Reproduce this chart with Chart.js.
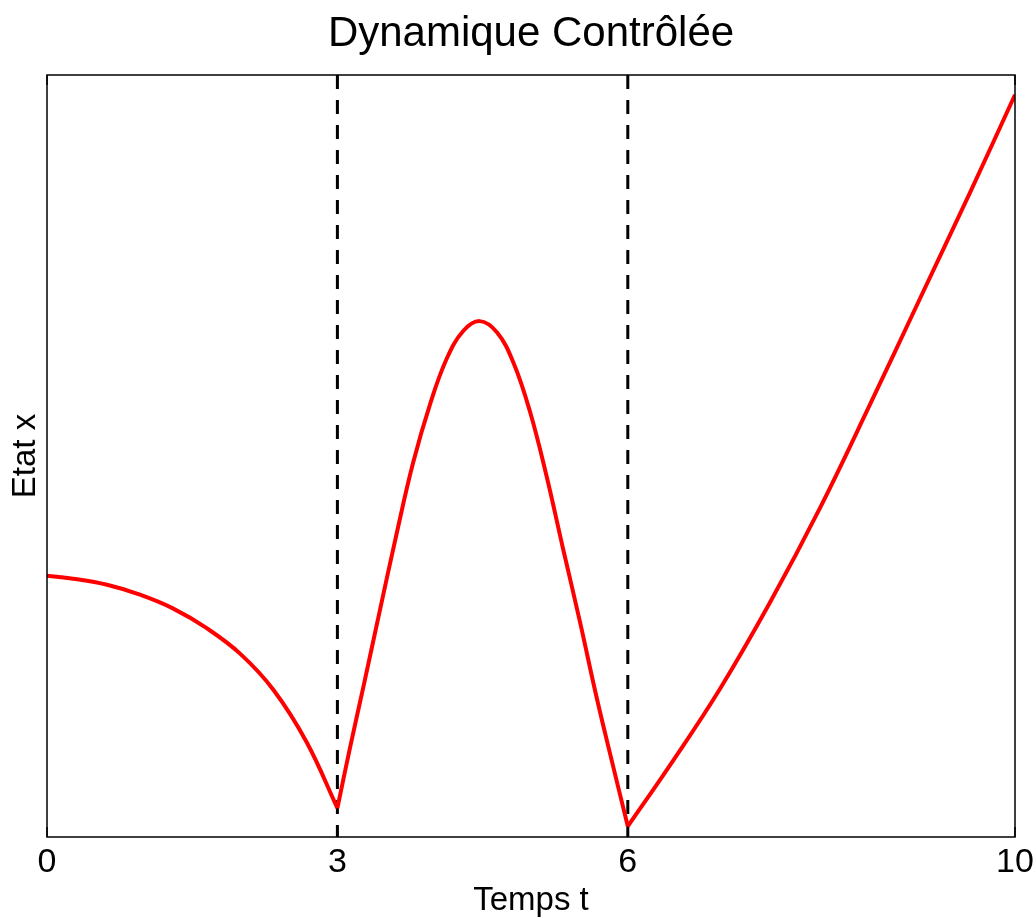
<!DOCTYPE html>
<html>
<head>
<meta charset="utf-8">
<script src="https://cdn.jsdelivr.net/npm/chart.js@4"></script>
<style>
  html, body { margin: 0; padding: 0; background: #fff; }
  #wrap { width: 1036px; height: 918px; }
</style>
</head>
<body>
<div id="wrap"><canvas id="myChart"></canvas></div>
<script>
// temps t et etat x (3 phases)
var tPhase1 = [0, 0.27, 0.62, 0.96, 1.3, 1.65, 2.0, 2.34, 2.68, 3.0];
var xPhase1 = [0.343, 0.339, 0.331, 0.318, 0.300, 0.274, 0.240, 0.193, 0.125, 0.038];

var tPhase2 = [3.0, 3.13, 3.27, 3.44, 3.61, 3.78, 3.96, 4.13, 4.30, 4.47, 4.65, 4.82, 4.99, 5.16, 5.33, 5.51, 5.68, 5.85, 6.0];
var xPhase2 = [0.038, 0.117, 0.198, 0.298, 0.397, 0.490, 0.569, 0.628, 0.664, 0.677, 0.662, 0.622, 0.558, 0.474, 0.379, 0.280, 0.182, 0.092, 0.014];

var tPhase3 = [6.0, 6.44, 6.95, 7.47, 7.99, 8.5, 9.02, 9.54, 10.0];
var xPhase3 = [0.014, 0.095, 0.194, 0.308, 0.433, 0.567, 0.707, 0.847, 0.974];

var tSwitch = [3, 6];          // instants de commutation (lignes pointillees)
var tickValues = [0, 3, 6, 10];
var titre = "Dynamique Contrôlée";

function pairs(ts, xs) {
  var out = [];
  for (var i = 0; i < ts.length; i++) out.push({ x: ts[i], y: xs[i] });
  return out;
}

var rouge = {
  borderColor: "#ff0000",
  borderWidth: 4,
  pointRadius: 0,
  fill: false,
  tension: 0.4,
};

var datasets = [
  Object.assign({ data: pairs(tPhase1, xPhase1) }, rouge),
  Object.assign({ data: pairs(tPhase2, xPhase2) }, rouge),
  Object.assign({ data: pairs(tPhase3, xPhase3) }, rouge),
];
tSwitch.forEach(function (ts) {
  datasets.push({
    data: [{ x: ts, y: 1 }, { x: ts, y: 0 }],
    borderColor: "#000",
    borderWidth: 3,
    borderDash: [14, 11],
    pointRadius: 0,
    fill: false,
  });
});

var font = "'Liberation Sans', Arial, sans-serif";

// cadre + graduations vers l'interieur (style matlab) + titre centre sur le cadre
var boxPlugin = {
  id: "box",
  afterDatasetsDraw: function (chart) {
    var ctx = chart.ctx, a = chart.chartArea, xs = chart.scales.x;
    ctx.save();
    ctx.strokeStyle = "#000";
    ctx.lineWidth = 1.5;
    ctx.strokeRect(a.left, a.top, a.right - a.left, a.bottom - a.top);
    tickValues.forEach(function (v) {
      var px = xs.getPixelForValue(v);
      ctx.beginPath();
      ctx.moveTo(px, a.bottom);
      ctx.lineTo(px, a.bottom - 10);
      ctx.moveTo(px, a.top);
      ctx.lineTo(px, a.top + 10);
      ctx.stroke();
    });
    ctx.fillStyle = "#000";
    ctx.font = "42px " + font;
    ctx.textAlign = "center";
    ctx.textBaseline = "middle";
    ctx.fillText(titre, (a.left + a.right) / 2, 34);
    ctx.restore();
  },
};

new Chart(document.getElementById("myChart").getContext("2d"), {
  type: "line",
  data: { datasets: datasets },
  plugins: [boxPlugin],
  options: {
    responsive: true,
    maintainAspectRatio: false,
    animation: false,
    layout: { padding: { top: 75, right: 21, bottom: 0, left: 0 } },
    plugins: {
      legend: { display: false },
      tooltip: { enabled: false },
      title: { display: false },
    },
    scales: {
      x: {
        type: "linear",
        min: 0,
        max: 10,
        afterBuildTicks: function (axis) {
          axis.ticks = tickValues.map(function (v) { return { value: v }; });
        },
        afterFit: function (axis) {
          axis.paddingLeft = 0;
          axis.paddingRight = 0;
        },
        grid: { display: false, drawTicks: false },
        border: { display: false },
        ticks: {
          color: "#000",
          padding: 9,
          maxRotation: 0,
          autoSkip: false,
          font: { family: font, size: 34, lineHeight: 1 },
        },
        title: {
          display: true,
          text: "Temps t",
          color: "#000",
          font: { family: font, size: 33, lineHeight: 1 },
          padding: { top: -5, bottom: 1 },
        },
      },
      y: {
        min: 0,
        max: 1,
        grid: { display: false, drawTicks: false },
        border: { display: false },
        ticks: { display: false },
        title: {
          display: true,
          text: "Etat x",
          color: "#000",
          font: { family: font, size: 33, lineHeight: 1 },
          padding: { top: 9, bottom: 5 },
        },
      },
    },
  },
});
</script>
</body>
</html>
